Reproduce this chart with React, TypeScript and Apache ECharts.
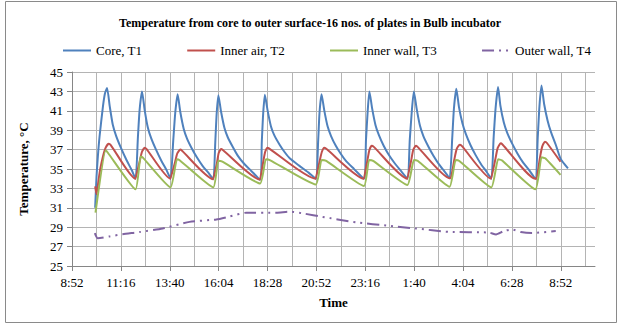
import React, { useEffect, useRef } from "react";
import * as echarts from "echarts";

// ---- axis constants (Excel date axis: 0.37 .. 1.44 day, major 0.1 day, minor 0.05 day)
const AXIS_START = 8 * 60 + 52.8; // 8:52:48
const AXIS_SPAN = 1540.8; // minutes shown on the axis
const LABEL_STEP = 144; // 2:24
const GRID_STEP = 72; // 1:12
const Y_MIN = 25;
const Y_MAX = 45;
const Y_STEP = 2;

const legendNames = ["Core, T1", "Inner air, T2", "Inner wall, T3", "Outer wall, T4"];

// ---- Core, T1
const coreTime = [
  "10:01", "10:05", "10:09", "10:14", "10:24", "10:30", "10:36",
  "10:44", "10:53", "11:03", "11:18", "11:33", "11:49", "12:00",
  "12:07", "12:12", "12:19",
  "12:27", "12:36", "12:46", "13:01", "13:16", "13:32", "13:43",
  "13:51", "13:57", "14:04",
  "14:12", "14:22", "14:32", "14:47", "15:02", "15:18", "15:35", "15:49",
  "15:55", "15:59", "16:04",
  "16:12", "16:22", "16:32", "16:47", "17:01", "17:18", "17:41", "18:07",
  "18:12", "18:16", "18:21",
  "18:29", "18:39", "18:49", "19:04", "19:19", "19:35", "20:02", "20:29", "20:51",
  "20:58", "21:02", "21:08",
  "21:16", "21:26", "21:36", "21:50", "22:05", "22:21", "22:44", "23:13",
  "23:19", "23:24", "23:29",
  "23:37", "23:47", "23:57", "0:11", "0:26", "0:43", "1:02", "1:21",
  "1:28", "1:34", "1:40",
  "1:48", "1:58", "2:08", "2:23", "2:38", "2:54", "3:10", "3:25",
  "3:33", "3:38", "3:45",
  "3:53", "4:03", "4:13", "4:27", "4:42", "4:58", "5:14", "5:28",
  "5:35", "5:41", "5:48",
  "5:55", "6:05", "6:15", "6:30", "6:45", "7:01", "7:19", "7:38",
  "7:45", "7:50", "7:56",
  "8:04", "8:14", "8:24", "8:38", "8:53", "9:14",
];
const coreTemp = [
  31.0, 34.2, 36.3, 38.35, 41.45, 42.8, 43.35,
  41.45, 39.56, 38.39, 37.09, 35.95, 34.87, 34.0,
  38.3, 41.1, 43.0,
  41.05, 39.31, 38.18, 36.94, 35.85, 34.83, 34.0,
  37.9, 40.8, 42.7,
  40.85, 39.13, 38.11, 37.04, 36.13, 35.3, 34.6, 33.95,
  37.84, 40.7, 42.6,
  40.9, 39.22, 38.25, 37.24, 36.38, 35.62, 34.8, 33.9,
  37.84, 40.7, 42.65,
  41.05, 39.39, 38.46, 37.53, 36.75, 36.08, 35.35, 34.65, 34.0,
  37.9, 40.8, 42.7,
  41.05, 39.37, 38.4, 37.39, 36.54, 35.78, 34.99, 34.0,
  38.05, 41.0, 43.0,
  41.25, 39.52, 38.49, 37.4, 36.47, 35.62, 34.8, 34.0,
  38.05, 41.0, 43.0,
  41.25, 39.45, 38.4, 37.3, 36.34, 35.48, 34.76, 34.05,
  38.2, 41.24, 43.27,
  41.35, 39.71, 38.62, 37.45, 36.43, 35.49, 34.72, 34.0,
  38.25, 41.37, 43.45,
  41.5, 39.79, 38.73, 37.59, 36.61, 35.71, 34.9, 34.0,
  38.3, 41.5, 43.6,
  41.65, 39.98, 38.8, 37.5, 36.0, 35.07,
];

// ---- Inner air, T2
const airTime = [
  "10:01", "10:05", "10:10", "10:16", "10:24", "10:32", "10:41",
  "10:47", "12:00",
  "12:02", "12:12", "12:19", "12:27", "12:32", "13:43",
  "13:45", "13:56", "14:03", "14:12", "14:17", "15:49",
  "15:51", "16:00", "16:05", "16:12", "16:18", "18:07",
  "18:09", "18:16", "18:22", "18:29", "18:35", "20:51",
  "20:53", "21:02", "21:09", "21:16", "21:22", "23:13",
  "23:15", "23:23", "23:29", "23:36", "23:42", "1:21",
  "1:23", "1:32", "1:38", "1:46", "1:51", "3:25",
  "3:28", "3:39", "3:46", "3:55", "4:01", "5:28",
  "5:30", "5:40", "5:47", "5:56", "6:01", "7:38",
  "7:41", "7:51", "7:58", "8:06", "8:12", "8:52",
];
const airTemp = [
  33.2, 32.4, 33.6, 35.0, 36.3, 37.2, 37.6,
  37.47, 34.0,
  34.0, 35.76, 36.78, 37.2, 37.08, 34.0,
  34.0, 35.65, 36.6, 37.0, 36.88, 33.95,
  33.95, 35.66, 36.65, 37.05, 36.93, 33.9,
  33.9, 35.7, 36.77, 37.2, 37.08, 34.0,
  34.0, 35.76, 36.78, 37.2, 37.08, 34.0,
  34.0, 35.87, 36.96, 37.4, 37.28, 34.0,
  34.0, 35.87, 36.96, 37.4, 37.28, 34.05,
  34.05, 35.95, 37.05, 37.5, 37.38, 34.0,
  34.0, 36.0, 37.18, 37.65, 37.53, 34.0,
  34.0, 36.09, 37.31, 37.8, 37.68, 35.75,
];

// ---- Inner wall, T3
const wallTime = [
  "10:02", "10:32", "10:38", "12:00", "12:15", "12:21", "13:43", "14:02", "14:10",
  "15:49", "16:04", "16:16", "18:07", "18:24", "18:37", "20:51", "21:08", "21:22",
  "23:13", "23:28", "23:40", "1:21", "1:40", "1:52", "3:25", "3:43", "3:54",
  "5:28", "5:48", "5:59", "7:38", "7:56", "8:07", "8:52",
];
const wallTemp = [
  30.5, 36.9, 36.7, 32.9, 36.3, 36.2, 33.1, 36.0, 35.9,
  33.1, 35.85, 35.75, 33.5, 36.0, 35.9, 33.4, 35.93, 35.83,
  33.25, 35.93, 35.83, 33.35, 35.93, 35.83, 33.17, 35.93, 35.83,
  33.1, 36.0, 35.9, 32.9, 36.2, 36.1, 34.4,
];

// ---- Outer wall, T4
const outerTime = [
  "10:00", "10:09", "10:44", "11:22", "12:12", "13:20", "14:39", "15:58", "16:37",
  "17:27", "18:55", "19:33", "20:17", "21:10", "22:50", "0:27", "1:46", "3:23",
  "5:21", "5:42", "6:05", "6:29", "6:55", "7:27", "8:38",
];
const outerTemp = [
  28.4, 27.85, 28.05, 28.28, 28.5, 28.87, 29.55, 29.8, 30.1,
  30.5, 30.5, 30.6, 30.4, 30.07, 29.5, 29.14, 28.87, 28.52,
  28.45, 28.25, 28.6, 28.77, 28.5, 28.4, 28.6,
];

const FONT = "'Liberation Serif', 'Times New Roman', serif";

function toAxisMinutes(times: string[]): number[] {
  let offset = 0;
  let last = -Infinity;
  return times.map((t) => {
    const [h, m] = t.split(":").map(Number);
    let v = h * 60 + m + offset;
    if (v < last - 600) {
      offset += 1440;
      v += 1440;
    }
    last = v;
    return v - AXIS_START;
  });
}

function fmtClock(v: number): string {
  const c = (((AXIS_START + v) % 1440) + 1440) % 1440;
  const h = Math.floor(c / 60 + 1e-9);
  const m = Math.floor(c - h * 60 + 1e-6);
  return `${h}:${String(m).padStart(2, "0")}`;
}

function pairs(times: string[], temps: number[]) {
  const xs = toAxisMinutes(times);
  return xs.map((x, i) => [x, temps[i]]);
}

export default function App() {
  const ref = useRef<HTMLDivElement>(null);
  useEffect(() => {
    if (!ref.current) return;
    const chart = echarts.init(ref.current, undefined, { renderer: "svg" });
    const axisGray = "#868686";
    const gridGray = "#B4B4B4";
    const option: any = {
      animation: false,
      backgroundColor: "#ffffff",
      graphic: [
        {
          type: "rect",
          shape: { x: 5.5, y: 1.5, width: 611, height: 321 },
          style: { fill: "none", stroke: "#8a8a8a", lineWidth: 1 },
          silent: true,
          z: -1,
        },
      ],
      title: {
        text: "Temperature from core to outer surface-16 nos. of plates in Bulb incubator",
        left: "center",
        top: 12,
        textStyle: { fontFamily: FONT, fontSize: 12, fontWeight: "bold", color: "#000" },
      },
      legend: {
        data: legendNames,
        top: 39,
        left: 57,
        itemWidth: 28,
        itemHeight: 12,
        itemGap: 44,
        itemStyle: { opacity: 0 },
        textStyle: { fontFamily: FONT, fontSize: 13, color: "#000" },
      },
      grid: { left: 72, right: 25, top: 72, bottom: 58, outerBoundsMode: "none" },
      xAxis: [
        {
          type: "value",
          min: 0,
          max: AXIS_SPAN,
          interval: LABEL_STEP,
          axisLine: { show: true, onZero: false, lineStyle: { color: axisGray } },
          axisTick: { show: true, length: 5, lineStyle: { color: axisGray } },
          axisLabel: {
            formatter: fmtClock,
            showMaxLabel: false,
            margin: 10,
            fontFamily: FONT,
            fontSize: 13,
            color: "#000",
          },
          splitLine: { show: false },
          name: "Time",
          nameLocation: "middle",
          nameGap: 30,
          nameTextStyle: { fontFamily: FONT, fontSize: 13, fontWeight: "bold", color: "#000" },
        },
        {
          type: "value",
          min: 0,
          max: AXIS_SPAN,
          interval: GRID_STEP,
          position: "bottom",
          axisLine: { show: false },
          axisTick: { show: false },
          axisLabel: { show: false },
          splitLine: { show: true, showMaxLine: false, lineStyle: { color: gridGray, width: 1 } },
        },
      ],
      yAxis: {
        type: "value",
        min: Y_MIN,
        max: Y_MAX,
        interval: Y_STEP,
        axisLine: { show: true, lineStyle: { color: axisGray } },
        axisTick: { show: true, length: 5, lineStyle: { color: axisGray } },
        axisLabel: { fontFamily: FONT, fontSize: 13, color: "#000", margin: 9 },
        splitLine: { show: true, lineStyle: { color: gridGray, width: 1 } },
        name: "Temperature, °C",
        nameLocation: "middle",
        nameGap: 42,
        nameRotate: 90,
        nameTextStyle: { fontFamily: FONT, fontSize: 13, fontWeight: "bold", color: "#000" },
      },
      series: [
        {
          name: legendNames[0],
          type: "line",
          data: pairs(coreTime, coreTemp),
          symbol: "none",
          smooth: 0.2,
          lineStyle: { color: "#4F81BD", width: 2 },
          itemStyle: { color: "#4F81BD" },
        },
        {
          name: legendNames[1],
          type: "line",
          data: pairs(airTime, airTemp),
          symbol: "none",
          smooth: 0.2,
          lineStyle: { color: "#C0504D", width: 2 },
          itemStyle: { color: "#C0504D" },
        },
        {
          name: legendNames[2],
          type: "line",
          data: pairs(wallTime, wallTemp),
          symbol: "none",
          smooth: 0.15,
          lineStyle: { color: "#9BBB59", width: 2 },
          itemStyle: { color: "#9BBB59" },
        },
        {
          name: legendNames[3],
          type: "line",
          data: pairs(outerTime, outerTemp),
          symbol: "none",
          smooth: 0.2,
          lineStyle: { color: "#8064A2", width: 2, type: [12, 5, 2, 5, 2, 5] },
          itemStyle: { color: "#8064A2" },
        },
      ],
    };
    chart.setOption(option);
    return () => chart.dispose();
  }, []);
  return (
    <div
      ref={ref}
      style={{ position: "fixed", left: 0, top: 0, width: 620, height: 324, background: "#fff" }}
    />
  );
}
